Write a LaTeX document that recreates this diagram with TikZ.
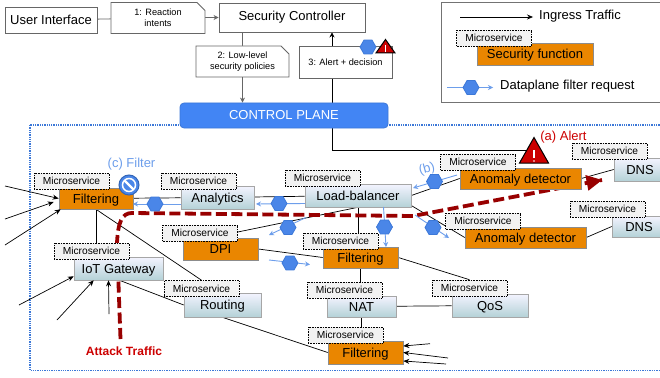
\documentclass[tikz,border=0pt]{standalone}
\usepackage{fontspec}
\setmainfont{Liberation Sans}
\usetikzlibrary{arrows.meta,shapes.geometric,shapes.misc,shadows,calc}
\pgfdeclarelayer{bg}
\pgfsetlayers{bg,main}
\definecolor{hexblue}{HTML}{3C78D8}
\definecolor{hexfill}{HTML}{4A86E8}
\definecolor{lightb}{HTML}{6D9EEB}
\definecolor{planeb}{HTML}{4285F4}
\definecolor{orangef}{HTML}{EA8600}
\definecolor{darkred}{HTML}{980000}
\definecolor{alertred}{HTML}{CC0000}
\definecolor{boxgray}{HTML}{666666}
\newcommand{\fs}[1]{\fontsize{#1}{#1}\selectfont}
\tikzset{
  x=1pt,y=-1pt,
  plainbox/.style={draw=boxgray,line width=0.9pt,fill=white,inner sep=0pt,align=center,font=\fs{13}},
  notebox/.style={chamfered rectangle,chamfered rectangle corners=north east,chamfered rectangle xsep=4pt,chamfered rectangle ysep=4pt,draw=boxgray,line width=0.9pt,fill=white,inner sep=0pt,align=center,font=\fs{9.2}},
  micro/.style={draw=black,densely dotted,line width=0.6pt,fill=black!5,minimum width=75pt,minimum height=16pt,inner sep=0pt,text height=7.4pt,text depth=0pt,font=\fs{10.2}},
  svc/.style={draw=black!35,line width=0.6pt,top color=white!85!blue!30,bottom color=blue!15!cyan!30!gray!45,minimum height=23pt,inner sep=0pt,text height=9.3pt,text depth=0pt,font=\fs{13},drop shadow={shadow xshift=0.6pt,shadow yshift=-1pt,opacity=0.35,fill=black}},
  secf/.style={draw=black!45,line width=0.6pt,fill=orangef,minimum height=21pt,inner sep=0pt,text height=9.3pt,text depth=0pt,font=\fs{13},drop shadow={shadow xshift=0.6pt,shadow yshift=-1pt,opacity=0.35,fill=black}},
  hexa/.style={regular polygon,regular polygon sides=6,shape border rotate=0,minimum size=16pt,inner sep=0pt,fill=hexfill,draw=hexblue,line width=0.8pt},
  tipline/.style={line width=0.7pt,-{Stealth[length=6pt,width=5pt]}},
  link/.style={black,line width=0.7pt},
  greyln/.style={boxgray,line width=0.8pt},
  blueflow/.style={lightb,line width=0.9pt,-{Stealth[length=5pt,width=5pt]}},
  attack/.style={darkred,line width=3.8pt,dash pattern=on 11pt off 4.5pt},
  lab/.style={inner sep=0pt},
}
\begin{document}
\begin{tikzpicture}
\useasboundingbox (0,0) rectangle (660,377);
\clip (0,0) rectangle (660,377);
% top
\node[plainbox,minimum width=92pt,minimum height=26pt] (ui) at (51,20) {User Interface};
\node[notebox,minimum width=94pt,minimum height=31pt] (intents) at (158,18) {1: Reaction\\[2pt]intents};
\node[plainbox,minimum width=146pt,minimum height=29pt] (sc) at (292,17.5) {Security Controller};
\node[notebox,minimum width=93pt,minimum height=31pt] (policies) at (242.5,61.5) {2: Low-level\\[2pt]security policies};
\node[plainbox,font=\fs{9.2},minimum width=93pt,minimum height=32pt] (alertbox) at (345.5,62) {3: Alert + decision};
\node[draw=hexblue,line width=0.8pt,fill=planeb,rounded corners=4pt,minimum width=208pt,minimum height=25pt,inner sep=0pt,text=white,font=\fs{13}] (plane) at (284,115.5) {CONTROL PLANE};
% legend
\node[draw=black!55,line width=0.8pt,fill=white,minimum width=225pt,minimum height=100pt,inner sep=0pt] (legend) at (553.5,52) {};
\coordinate (lega) at (460,17);
\coordinate (legb) at (533,17);
\draw[tipline] (lega) -- (legb);
\node[lab,font=\fs{13},anchor=west] (legt1) at (539,16) {Ingress Traffic};
\node[secf,minimum width=116pt,minimum height=22pt] (legsec) at (535,54) {Security function};
\node[micro] (legmic) at (494,38) {Microservice};
\coordinate (legc) at (447,87.5);
\coordinate (legd) at (493,87.5);
\draw[blueflow] (legc) -- (legd);
\node[hexa] (leghex) at (471,87.5) {};
\node[lab,font=\fs{13},anchor=west] (legt3) at (500,86) {Dataplane filter request};
% dataplane frame
\begin{pgfonlayer}{bg}
\draw[hexblue,line width=1.4pt,dash pattern=on 1.3pt off 1pt] (30,125) rectangle (672,370.5);
\end{pgfonlayer}
% services
\node[secf,minimum width=74pt] (f1) at (96,198.5) {Filtering};
\node[micro] (mf1) at (71.5,181) {Microservice};
\node[svc,minimum width=73pt] (an) at (217.5,197.5) {Analytics};
\node[micro] (man) at (198.5,181) {Microservice};
\node[svc,minimum width=89pt] (iot) at (118.5,268.5) {IoT Gateway};
\node[micro] (miot) at (91.5,251) {Microservice};
\node[svc,minimum width=77pt,minimum height=24pt] (rt) at (222.5,305) {Routing};
\node[micro] (mrt) at (201.5,288.5) {Microservice};
\node[secf,minimum width=75pt,minimum height=22pt] (dpi) at (220.5,249) {DPI};
\node[micro] (mdpi) at (200,233) {Microservice};
\node[svc,minimum width=106pt] (lb) at (358,195.5) {Load-balancer};
\node[micro] (mlb) at (322.5,178) {Microservice};
\node[secf,minimum width=75pt] (f2) at (360.5,257.5) {Filtering};
\node[micro] (mf2) at (340.5,241) {Microservice};
\node[svc,minimum width=69pt,minimum height=21pt] (nat) at (361.5,306.5) {NAT};
\node[micro] (mnat) at (344.5,290) {Microservice};
\node[svc,minimum width=76pt] (qos) at (490,305.5) {QoS};
\node[micro] (mqos) at (469.5,288) {Microservice};
\node[secf,minimum width=75pt,minimum height=23pt] (f3) at (365.5,352.5) {Filtering};
\node[micro] (mf3) at (345.5,335) {Microservice};
\node[secf,minimum width=121pt] (ad1) at (520.5,178.5) {Anomaly detector};
\node[micro] (mad1) at (478,162) {Microservice};
\node[secf,minimum width=121pt] (ad2) at (525.5,237.5) {Anomaly detector};
\node[micro] (mad2) at (483,221) {Microservice};
\node[svc,minimum width=52pt] (dns1) at (640,169.5) {DNS};
\node[micro] (mdns1) at (609.5,151) {Microservice};
\node[svc,minimum width=54pt,minimum height=21pt] (dns2) at (639,226.5) {DNS};
\node[micro] (mdns2) at (607.5,209) {Microservice};
% free ends
\coordinate (i1) at (5,186);
\coordinate (i2) at (5,219);
\coordinate (i3) at (5,245);
\coordinate (i4) at (19,305);
\coordinate (i5) at (57,320);
\coordinate (i6) at (109,314);
\coordinate (i7) at (430,343.7);
\coordinate (i8) at (448,358);
\coordinate (i9) at (446,364);
\coordinate (atk0) at (120.5,339);
\coordinate (atk1) at (117,243);
\coordinate (atk2) at (132,213);
\coordinate (atk3) at (413,216);
\coordinate (atk4) at (602,180);
\coordinate (alertcorner) at (332,150);
% connectors behind the nodes
\begin{pgfonlayer}{bg}
\draw[greyln] (ui) -- (intents);
\draw[greyln,-{Stealth[length=5pt,width=5pt]}] (intents.east |- sc.west) -- (sc.west);
\draw[greyln] ([xshift=-50pt]sc.south) -- ([xshift=-50pt]sc.south |- policies.north);
\draw[greyln,-{Stealth[length=5pt,width=5pt]}] (policies.south) -- (policies.south |- plane.north);
\draw[link,-{Stealth[length=5pt,width=5pt]}] (alertbox.north -| alertcorner) -- (sc.south -| alertcorner);
\draw[link] (alertbox.south -| alertcorner) -- (plane.north -| alertcorner);
\draw[link] (plane.south -| alertcorner) -- (alertcorner) -- (534,150);
\draw[link] (f1) -- (an);
\draw[link] (an) -- (lb);
\draw[link] ([yshift=1pt]mdpi.east) -- (lb.south);
\draw[link] (f1.south) -- (miot.north -| f1.south);
\draw[link] (f1.south) -- (mrt.north);
\draw[link] (lb.south) -- (mf2.north -| lb.south);
\draw[link] (dpi.east) -- (f2.west);
\draw[link] (f2.south) -- (mnat.north -| f2.south);
\draw[link] (f2.east) -- (mqos.north);
\draw[link] (nat) -- (qos);
\draw[link] (nat.south) -- (mf3.north -| nat.south);
\draw[link] ([xshift=1pt]iot.south) -- (rt.west);
\draw[link] (rt.south) -- (f3.west);
\draw[link] (lb.east) -- (ad1.west);
\draw[link] ([yshift=-10pt]lb.east) -- (ad2.west);
\draw[link] (ad1.east) -- (dns1.west);
\draw[link] (ad2.east) -- (dns2.west);
\draw[attack] (atk0) -- (atk1) .. controls (118,222) and (122,213) .. (atk2) -- (atk3) -- (atk4);
\end{pgfonlayer}
% attack arrow head
\path (atk3) -- (atk4) coordinate[pos=0.92] (atkb);
\fill[darkred] (atk4) -- ($(atkb)!8pt!90:(atk4)$) -- ($(atkb)!8pt!-90:(atk4)$) -- cycle;
% ingress arrows
\draw[tipline] (i1) -- (f1.west);
\draw[tipline] (i2) -- ([xshift=-5pt,yshift=-3.5pt]f1.west);
\draw[tipline] (i3) -- ([xshift=2pt]f1.south west);
\draw[tipline] (i4) -- ([yshift=4pt]iot.south west);
\draw[tipline] (i5) -- ([xshift=20pt]iot.south west);
\draw[tipline] (i6) -- ([xshift=-10pt]iot.south);
\draw[tipline] (i7) -- ([yshift=6.5pt]f3.east);
\draw[tipline] (i8) -- (f3.east);
\draw[tipline] (i9) -- ([yshift=-8.5pt]f3.east);
% dataplane filter requests
\coordinate (fa1) at (181,204); \coordinate (fa2) at (133,204);
\coordinate (fb1) at (305,203.5); \coordinate (fb2) at (256,204);
\coordinate (fc1) at (306,217.5); \coordinate (fc2) at (269,235);
\coordinate (fd1) at (383.5,207); \coordinate (fd2) at (386,247);
\coordinate (fe1) at (415,215); \coordinate (fe2) at (449,238);
\coordinate (ff1) at (457,175); \coordinate (ff2) at (413,188);
\coordinate (fg1) at (269,260); \coordinate (fg2) at (310,264.5);
\draw[blueflow] (fa1) -- (fa2);
\draw[blueflow] (fb1) -- (fb2);
\draw[blueflow] (fc1) -- (fc2);
\draw[blueflow] (fd1) -- (fd2);
\draw[blueflow] (fe1) -- (fe2);
\draw[blueflow] (ff1) -- (ff2);
\draw[blueflow] (fg1) -- (fg2);
\node[hexa] (ha) at (155,204) {};
\node[hexa] (hb) at (279,203.5) {};
\node[hexa] (hc) at (288,227.5) {};
\node[hexa] (hd) at (384.5,227) {};
\node[hexa] (he) at (433,227.5) {};
\node[hexa] (hf) at (434.5,181.5) {};
\node[hexa] (hg) at (290,263) {};
\node[hexa] (hh) at (368,47) {};
% alert triangles
\draw[black,line width=1pt,fill=alertred,line join=miter] (385.5,39.5) -- (395,53) -- (376,53) -- cycle;
\draw[white,line width=1.2pt] (385.5,45) -- (385.5,52);
\draw[black,line width=1pt,fill=alertred,line join=miter] (534,137.5) -- (548.5,163) -- (519.5,163) -- cycle;
\draw[white,line width=1.6pt] (534,150) -- (534,158);
\fill[white] (534,161) circle (0.9pt);
% filter icon
\node[circle,draw=hexblue!85!black,fill=hexfill,line width=1pt,minimum size=20pt,inner sep=0pt] (ficon) at (129,185) {};
\draw[white,line width=1.5pt] (ficon) circle (6.5pt);
\draw[white,line width=2.4pt] ($(ficon)+(-4.6,-4.6)$) -- ($(ficon)+(4.6,4.6)$);
% labels
\node[lab,text=lightb,font=\fs{13}] (lc) at (131.5,164) {(c) Filter};
\node[lab,text=lightb,font=\fs{13},rotate=15] (lb2) at (427,169) {(b)};
\node[lab,text=alertred,font=\fs{13}] (la) at (563.5,137) {(a) Alert};
\node[lab,text=alertred,font=\bfseries\fs{12}] (latk) at (124,351) {Attack Traffic};
\end{tikzpicture}
\end{document}
